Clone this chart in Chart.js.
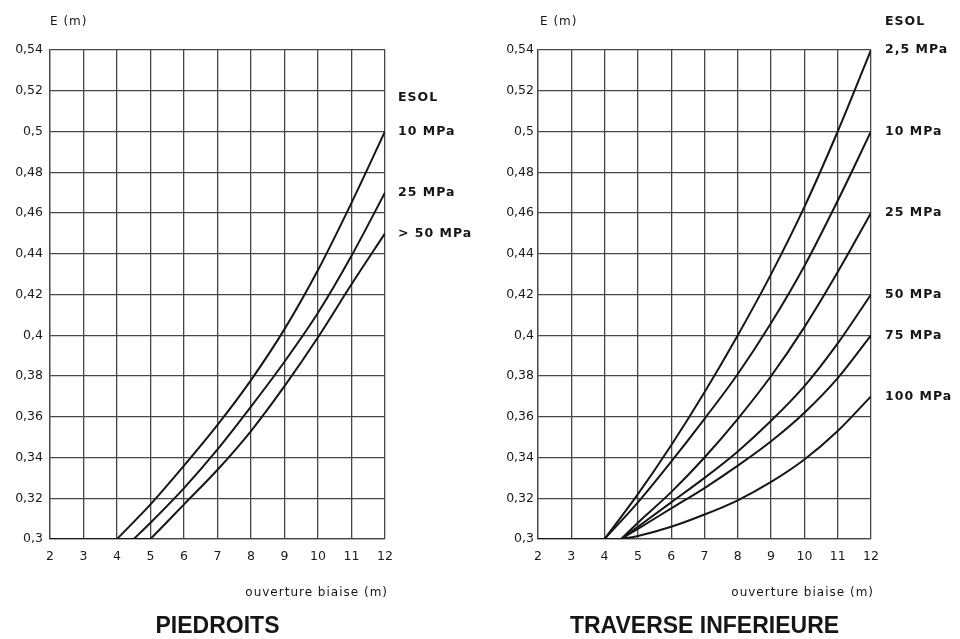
<!DOCTYPE html>
<html>
<head>
<meta charset="utf-8">
<script src="https://cdn.jsdelivr.net/npm/chart.js@4/dist/chart.umd.min.js"></script>
<style>
html,body{margin:0;padding:0;background:#fff;}
#wrap{position:relative;width:960px;height:639px;overflow:hidden;}
canvas{position:absolute;top:0;}
#c1{left:0;}
#c2{left:480px;}
</style>
</head>
<body>
<div id="wrap">
<canvas id="c1" width="480" height="639"></canvas>
<canvas id="c2" width="480" height="639"></canvas>
</div>
<script>
// ---------- data ----------
const yTickValues = [0.3, 0.32, 0.34, 0.36, 0.38, 0.4, 0.42, 0.44, 0.46, 0.48, 0.5, 0.52, 0.54];
const yTickLabels = ['0,3', '0,32', '0,34', '0,36', '0,38', '0,4', '0,42', '0,44', '0,46', '0,48', '0,5', '0,52', '0,54'];
const xTickValues = [2, 3, 4, 5, 6, 7, 8, 9, 10, 11, 12];

// PIEDROITS
const piedBaseX = [2, 5];
const piedBaseY = [0.3, 0.3];
const pied10X = [4, 5, 6, 7, 8, 9, 10, 11, 12];
const pied10Y = [0.3, 0.317, 0.336, 0.356, 0.378, 0.403, 0.432, 0.465, 0.5];
const pied25X = [4.5, 5, 6, 7, 8, 9, 10, 11, 12];
const pied25Y = [0.3, 0.308, 0.325, 0.344, 0.365, 0.387, 0.411, 0.439, 0.47];
const pied50X = [5, 6, 7, 8, 9, 10, 11, 12];
const pied50Y = [0.3, 0.317, 0.334, 0.353, 0.375, 0.399, 0.425, 0.45];
const piedLabels = ['10 MPa', '25 MPa', '> 50 MPa'];

// TRAVERSE INFERIEURE
const travBaseX = [2, 4.5];
const travBaseY = [0.3, 0.3];
const trav2X = [4, 5, 6, 7, 8, 9, 10, 11, 12];
const trav2Y = [0.3, 0.322, 0.346, 0.372, 0.4, 0.43, 0.463, 0.5, 0.54];
const trav10X = [4, 5, 6, 7, 8, 9, 10, 11, 12];
const trav10Y = [0.3, 0.318, 0.338, 0.359, 0.381, 0.406, 0.434, 0.466, 0.5];
const trav25X = [4.5, 5, 6, 7, 8, 9, 10, 11, 12];
const trav25Y = [0.3, 0.308, 0.323, 0.34, 0.359, 0.38, 0.404, 0.431, 0.46];
const trav50X = [4.5, 5, 6, 7, 8, 9, 10, 11, 12];
const trav50Y = [0.3, 0.306, 0.318, 0.33, 0.343, 0.358, 0.375, 0.396, 0.42];
const trav75X = [4.5, 5, 6, 7, 8, 9, 10, 11, 12];
const trav75Y = [0.3, 0.305, 0.315, 0.325, 0.336, 0.348, 0.362, 0.379, 0.4];
const trav100X = [4.5, 5, 6, 7, 8, 9, 10, 11, 12];
const trav100Y = [0.3, 0.3015, 0.306, 0.312, 0.319, 0.328, 0.339, 0.353, 0.37];
const travLabels = ['2,5 MPa', '10 MPa', '25 MPa', '50 MPa', '75 MPa', '100 MPa'];

// ---------- helpers ----------
const INK = '#161616';
const GRID = '#474747';
const pts = (xs, ys) => xs.map((x, i) => ({x: x, y: ys[i]}));
const line = (xs, ys, label) => ({
  data: pts(xs, ys),
  endLabel: label || null,
  borderColor: INK,
  borderWidth: 2,
  pointRadius: 0,
  fill: false,
  cubicInterpolationMode: 'monotone'
});

const extras = {
  id: 'extras',
  afterDraw(chart, args, o) {
    const ctx = chart.ctx, a = chart.chartArea, ys = chart.scales.y;
    ctx.save();
    ctx.fillStyle = INK;
    ctx.textBaseline = 'middle';
    ctx.font = '12px "DejaVu Sans"';
    ctx.letterSpacing = '1px';
    ctx.textAlign = 'left';
    ctx.fillText(o.yTitle, a.left + o.yTitleDx, 22);
    ctx.textAlign = 'right';
    ctx.fillText(o.xTitle, a.right + 3, 593);
    ctx.letterSpacing = '0px';
    ctx.font = 'bold 23px "Liberation Sans"';
    ctx.textAlign = 'center';
    ctx.fillText(o.title, (a.left + a.right) / 2, 627);
    ctx.font = 'bold 12.5px "DejaVu Sans"';
    ctx.letterSpacing = '1px';
    ctx.textAlign = 'left';
    chart.data.datasets.forEach(ds => {
      if (!ds.endLabel) return;
      const last = ds.data[ds.data.length - 1];
      ctx.fillText(ds.endLabel, a.right + o.labelDx, ys.getPixelForValue(last.y));
    });
    ctx.fillText(o.legendTitle, a.right + o.labelDx, o.legendTitleY);
    ctx.restore();
  }
};

function makeChart(id, datasets, o) {
  const tickFont = {family: '"DejaVu Sans"', size: 12.5};
  return new Chart(document.getElementById(id), {
    type: 'line',
    data: {datasets: datasets},
    options: {
      responsive: false,
      animation: false,
      devicePixelRatio: 1,
      layout: {padding: {left: 0, right: o.padRight, top: 50, bottom: 70}},
      plugins: {legend: {display: false}, tooltip: {enabled: false}, extras: o},
      scales: {
        x: {
          type: 'linear', min: 2, max: 12,
          afterBuildTicks: s => { s.ticks = xTickValues.map(v => ({value: v})); },
          ticks: {font: tickFont, color: '#1a1a1a', padding: 10, maxRotation: 0},
          grid: {color: GRID, lineWidth: 1.3, drawTicks: false},
          border: {color: GRID, width: 1.3},
          afterFit: s => { s.height = 30; }
        },
        y: {
          type: 'linear', min: 0.3, max: 0.54,
          afterBuildTicks: s => { s.ticks = yTickValues.map(v => ({value: v})); },
          ticks: {font: tickFont, color: '#1a1a1a', padding: o.yPad, callback: (v, i) => yTickLabels[i]},
          grid: {color: GRID, lineWidth: 1.3, drawTicks: false},
          border: {color: GRID, width: 1.3},
          afterFit: s => { s.width = o.yWidth; }
        }
      }
    },
    plugins: [extras]
  });
}

const ds1 = [
  line(piedBaseX, piedBaseY),
  line(pied10X, pied10Y, piedLabels[0]),
  line(pied25X, pied25Y, piedLabels[1]),
  line(pied50X, pied50Y, piedLabels[2])
];
makeChart('c1', ds1, {
  padRight: 95, yWidth: 50, yPad: 7, yTitle: 'E (m)', yTitleDx: 0,
  xTitle: 'ouverture biaise (m)', title: 'PIEDROITS',
  legendTitle: 'ESOL', legendTitleY: 98, labelDx: 13
});

const ds2 = [
  line(travBaseX, travBaseY),
  line(trav2X, trav2Y, travLabels[0]),
  line(trav10X, trav10Y, travLabels[1]),
  line(trav25X, trav25Y, travLabels[2]),
  line(trav50X, trav50Y, travLabels[3]),
  line(trav75X, trav75Y, travLabels[4]),
  line(trav100X, trav100Y, travLabels[5])
];
makeChart('c2', ds2, {
  padRight: 89, yWidth: 58, yPad: 4, yTitle: 'E (m)', yTitleDx: 2,
  xTitle: 'ouverture biaise (m)', title: 'TRAVERSE INFERIEURE',
  legendTitle: 'ESOL', legendTitleY: 22, labelDx: 14
});
</script>
</body>
</html>
